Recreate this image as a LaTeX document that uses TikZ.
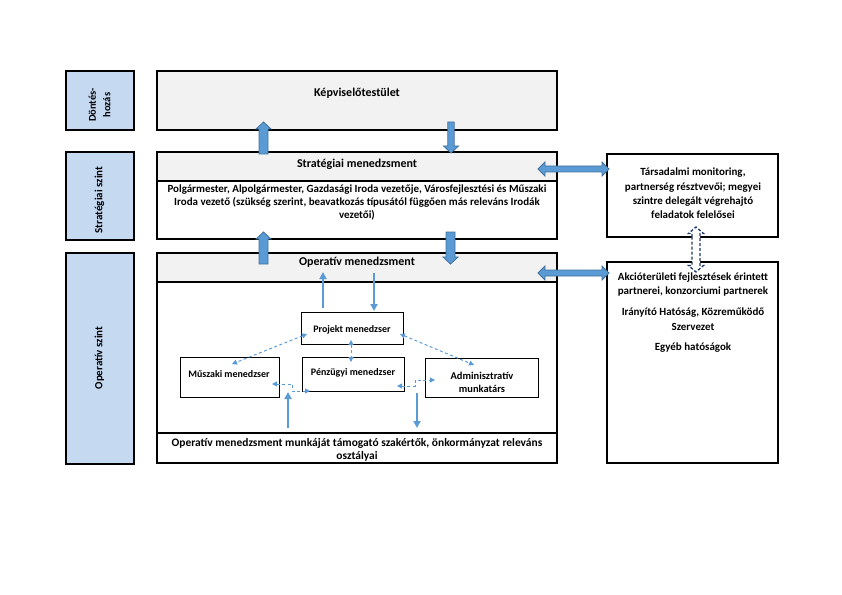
\documentclass[tikz,border=0pt]{standalone}
\usepackage{fontspec}
\setmainfont{Carlito}
\usetikzlibrary{arrows.meta,fit}
\definecolor{lblue}{RGB}{197,217,241}
\definecolor{hgray}{RGB}{242,242,242}
\definecolor{ablue}{RGB}{91,155,213}
\definecolor{aline}{RGB}{65,113,156}
\definecolor{navy}{RGB}{31,56,100}
\tikzset{
  box/.style={draw=black, line width=1.7bp, inner sep=0pt},
  lblbox/.style={box, fill=lblue},
  hdrbox/.style={box, fill=hgray},
  smallbox/.style={draw=black, line width=1bp, inner sep=0pt, fill=white},
  bodytxt/.style={font=\bfseries\fontsize{11}{13.5}\selectfont, align=center, inner sep=0pt},
  smalltxt/.style={font=\bfseries\fontsize{10}{13}\selectfont, align=center, inner sep=0pt},
  hdtxt/.style={font=\bfseries\fontsize{12}{14}\selectfont, align=center, inner sep=0pt},
  blk/.style={fill=ablue, draw=aline, line width=0.8bp, line join=miter},
  dblk/.style={fill=white, draw=navy, line width=1.3bp, dash pattern=on 3bp off 2bp},
  thinarr/.style={draw=ablue, line width=1.8bp, -{Triangle[length=7bp,width=7bp]}},
  dasharr/.style={draw=ablue, line width=1bp, dash pattern=on 3bp off 2.5bp, {Triangle[length=5bp,width=5bp]}-{Triangle[length=5bp,width=5bp]}},
}
\newcommand\blkv[4]{%
  \pgfmathsetmacro\hb{#3+7*sign(#2-#3)}%
  \draw[blk] ({#1-#4},#2) -- ({#1-#4},\hb) -- ({#1-7.5},\hb) -- (#1,#3) -- ({#1+7.5},\hb) -- ({#1+#4},\hb) -- ({#1+#4},#2) -- cycle;}
\newcommand\blkh[3]{%
  \draw[blk] (#2,#1) -- ({#2+7},{#1-7}) -- ({#2+7},{#1-3}) -- ({#3-7},{#1-3}) -- ({#3-7},{#1-7}) -- (#3,#1) -- ({#3-7},{#1+7}) -- ({#3-7},{#1+3}) -- ({#2+7},{#1+3}) -- ({#2+7},{#1+7}) -- cycle;}
\begin{document}
\begin{tikzpicture}[x=1bp,y=-1bp]
\useasboundingbox (0,0) rectangle (842,595);
% left level labels
\node[lblbox, fit={(66,71)(134,130)}] (dontes) {};
\node[lblbox, fit={(66,152)(134,240)}] (stratlbl) {};
\node[lblbox, fit={(66,253)(134,464)}] (operlbl) {};
\node[bodytxt, rotate=90, font=\bfseries\fontsize{10.5}{14.5}\selectfont] (dontesT) at (99.5,105) {Döntés-\\hozás};
\node[bodytxt, rotate=90] (stratlblT) at (99.5,200) {Stratégiai szint};
\node[bodytxt, rotate=90] (operlblT) at (99.5,358) {Operatív szint};
% main column
\node[hdrbox, fit={(157,71)(557,130)}] (kepv) {};
\node[hdrbox, fit={(157,152)(557,181)}] (strathdr) {};
\node[box, fit={(157,181)(557,239)}] (stratbody) {};
\node[hdrbox, fit={(157,253)(557,282)}] (operhdr) {};
\node[box, fit={(157,282)(557,433)}] (operbody) {};
\node[box, fit={(157,433)(557,463)}] (operbot) {};
\node[hdtxt] (kepvT) at (357,93) {Képviselőtestület};
\node[hdtxt] (strathdrT) at (357,164) {Stratégiai menedzsment};
\node[bodytxt] (stratbodyT) at (357,202.5) {Polgármester, Alpolgármester, Gazdasági Iroda vezetője, Városfejlesztési és Műszaki\\Iroda vezető (szükség szerint, beavatkozás típusától függően más releváns Irodák\\vezetői)};
\node[hdtxt] (operhdrT) at (357,262.5) {Operatív menedzsment};
\node[bodytxt, font=\bfseries\fontsize{11.5}{13}\selectfont] (operbotT) at (357,449.5) {Operatív menedzsment munkáját támogató szakértők, önkormányzat releváns\\osztályai};
% right column
\node[box, line width=1.2bp, fit={(607,154)(778,237)}] (tars) {};
\node[box, line width=1.2bp, fit={(607,262)(778,463)}] (akcio) {};
\node[bodytxt, font=\bfseries\fontsize{11}{14.3}\selectfont] (tarsT) at (693,193.5) {Társadalmi monitoring,\\partnerség résztvevői; megyei\\szintre delegált végrehajtó\\feladatok felelősei};
\node[bodytxt, font=\bfseries\fontsize{11}{15}\selectfont] (akcioT) at (693,312.5) {Akcióterületi fejlesztések érintett\\partnerei, konzorciumi partnerek\\[6bp]Irányító Hatóság, Közreműködő\\Szervezet\\[5bp]Egyéb hatóságok};
% inner team
\node[smallbox, fit={(301,312)(403,344)}] (projekt) {};
\node[smallbox, fit={(180,357)(279,397)}] (muszaki) {};
\node[smallbox, fit={(302,357)(404,391)}] (penz) {};
\node[smallbox, fit={(425,358)(538,397)}] (admin) {};
\node[smalltxt] (projektT) at (352,330) {Projekt menedzser};
\node[smalltxt] (muszakiT) at (229,374) {Műszaki menedzser};
\node[smalltxt] (penzT) at (353,373) {Pénzügyi menedzser};
\node[smalltxt, font=\bfseries\fontsize{10.5}{13}\selectfont] (adminT) at (482,382.5) {Adminisztratív\\munkatárs};
% block arrows
\blkv{263.5}{154}{122}{4.5}
\blkv{451}{122}{153}{3.2}
\blkv{263.5}{264}{232}{4.5}
\blkv{450.5}{232}{264}{4.5}
\blkh{169}{538}{609}
\blkh{273}{538}{609}
\draw[dblk] (692,237) -- (692,233.5) -- (688.5,233.5) -- (696,227) -- (703.5,233.5) -- (700,233.5) -- (700,265.5) -- (703.5,265.5) -- (696,272) -- (688.5,265.5) -- (692,265.5) -- cycle;
% thin solid arrows
\draw[thinarr] (323,0 |- projekt.north) ++(0,-4) -- (323,272);
\draw[thinarr] (374,273) -- (374,311);
\draw[thinarr] (288,428) -- (288,392);
\draw[thinarr] (417,393) -- (417,428);
% dashed team links
\draw[dasharr] (307,334) -- (232,364);
\draw[dasharr] (351,340) -- (351,362);
\draw[dasharr] (400,334) -- (474,365);
\draw[dasharr] (272,384) -- (292,384) -- (292,391) -- (310,391);
\draw[dasharr] (397,386) -- (415,386) -- (415,380) -- (435,380);
\end{tikzpicture}
\end{document}
